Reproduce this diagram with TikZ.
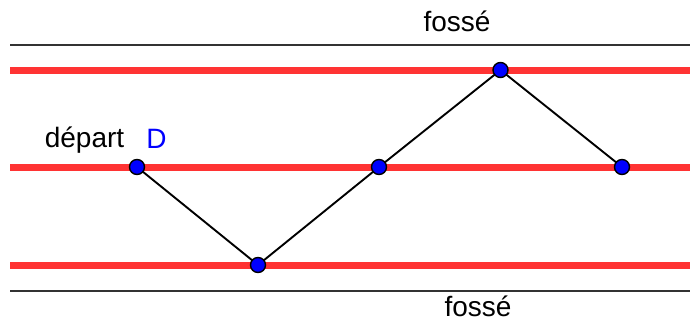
\documentclass[tikz,border=0pt]{standalone}
\usepackage{fontspec}
\setmainfont{Liberation Sans}
\begin{document}
\begin{tikzpicture}[x=1pt,y=-1pt,
  redline/.style={line width=7pt,color={rgb,255:red,255;green,51;blue,51}},
  ditch/.style={line width=2pt,color={rgb,255:red,50;green,50;blue,50}},
  seg/.style={line width=1.9pt,black},
  pt/.style={circle,inner sep=0pt,minimum size=15pt,fill=blue,draw=black,line width=1.4pt},
  lbl/.style={anchor=base,inner sep=0pt,font=\fontsize{28}{30}\selectfont}]
\useasboundingbox (0,0) rectangle (690,321);
% ditches
\coordinate (t1) at (10,45.5);  \coordinate (t2) at (690,45.5);
\coordinate (b1) at (10,290.5); \coordinate (b2) at (690,290.5);
\draw[ditch] (t1) -- (t2);
\draw[ditch] (b1) -- (b2);
% red lines
\coordinate (r1a) at (10,70);  \coordinate (r1b) at (690,70);
\coordinate (r2a) at (10,167); \coordinate (r2b) at (690,167);
\coordinate (r3a) at (10,265); \coordinate (r3b) at (690,265);
\draw[redline] (r1a) -- (r1b);
\draw[redline] (r2a) -- (r2b);
\draw[redline] (r3a) -- (r3b);
% path points
\coordinate (D) at (137,167);
\coordinate (P1) at (258,265);
\coordinate (P2) at (379,167);
\coordinate (P3) at (500.5,70);
\coordinate (P4) at (622,167);
\draw[seg] (D) -- (P1) -- (P2) -- (P3) -- (P4);
\node[pt] (nD) at (D) {};
\node[pt] (n1) at (P1) {};
\node[pt] (n2) at (P2) {};
\node[pt] (n3) at (P3) {};
\node[pt] (n4) at (P4) {};
% labels
\node[lbl] (ftop) at (457,32) {fossé};
\node[lbl] (fbot) at (478,316) {fossé};
\node[lbl] (dep) at (84.5,147) {départ};
\node[lbl,text=blue] (lD) at (156.5,148) {D};
\end{tikzpicture}
\end{document}
